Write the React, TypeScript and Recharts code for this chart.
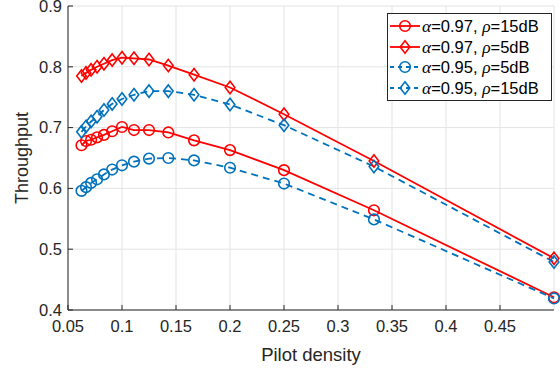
import React from "react";
import {
  LineChart,
  Line,
  XAxis,
  YAxis,
  CartesianGrid,
  Legend,
} from "recharts";

const DENSITY = [
  0.0625, 0.0667, 0.0714, 0.0769, 0.0833, 0.0909, 0.1, 0.1111, 0.125, 0.1429,
  0.1667, 0.2, 0.25, 0.3333, 0.5,
];

const A97_R15 = [
  0.671, 0.678, 0.68, 0.684, 0.688, 0.694, 0.701, 0.696, 0.696, 0.692, 0.679,
  0.663, 0.63, 0.564, 0.421,
];
const A97_R5 = [
  0.785, 0.79, 0.795, 0.8, 0.805, 0.811, 0.815, 0.814, 0.812, 0.802, 0.787,
  0.766, 0.722, 0.645, 0.485,
];
const A95_R5 = [
  0.596, 0.602, 0.609, 0.615, 0.623, 0.631, 0.638, 0.644, 0.649, 0.65, 0.646,
  0.634, 0.608, 0.549, 0.419,
];
const A95_R15 = [
  0.693, 0.702, 0.71, 0.718, 0.729, 0.739, 0.747, 0.754, 0.76, 0.76, 0.754,
  0.738, 0.704, 0.636, 0.479,
];

const X_TICKS = [0.05, 0.1, 0.15, 0.2, 0.25, 0.3, 0.35, 0.4, 0.45];
const Y_TICKS = [0.4, 0.5, 0.6, 0.7, 0.8, 0.9];

const RED = "#ff0000";
const BLUE = "#0072bd";
const AXIS = "#262626";
const FONT = "'Liberation Sans', Arial, sans-serif";

const SERIES = [
  { key: "s1", alpha: "0.97", rho: "15dB", color: RED, marker: "circle", dash: undefined },
  { key: "s2", alpha: "0.97", rho: "5dB", color: RED, marker: "diamond", dash: undefined },
  { key: "s3", alpha: "0.95", rho: "5dB", color: BLUE, marker: "circle", dash: "7 5" },
  { key: "s4", alpha: "0.95", rho: "15dB", color: BLUE, marker: "diamond", dash: "7 5" },
];

const data = DENSITY.map((x, i) => ({
  x,
  s1: A97_R15[i],
  s2: A97_R5[i],
  s3: A95_R5[i],
  s4: A95_R15[i],
}));

function Marker({ cx, cy, color, kind }: any) {
  if (cx == null || cy == null) return null;
  if (kind === "circle") {
    return <circle cx={cx} cy={cy} r={5.3} fill="none" stroke={color} strokeWidth={1.6} />;
  }
  const w = 4.8;
  const h = 6.2;
  return (
    <polygon
      points={`${cx},${cy - h} ${cx + w},${cy} ${cx},${cy + h} ${cx - w},${cy}`}
      fill="none"
      stroke={color}
      strokeWidth={1.6}
    />
  );
}

const greek = { fontFamily: "'Liberation Serif', serif", fontSize: 17.5 };

function renderLegend() {
  return (
    <div
      style={{
        border: `1px solid ${AXIS}`,
        background: "#fff",
        padding: "2px 0 2px 0",
        fontFamily: FONT,
        fontSize: 16.5,
        lineHeight: "18px",
        color: "#000",
        width: 165,
        boxSizing: "border-box",
      }}
    >
      {SERIES.map((s) => (
        <div key={s.key} style={{ display: "flex", alignItems: "center", height: 20.5 }}>
          <svg width={34} height={16} style={{ flex: "none" }}>
            <line
              x1={2}
              y1={8}
              x2={32}
              y2={8}
              stroke={s.color}
              strokeWidth={1.8}
              strokeDasharray={s.dash ? "4 4" : undefined}
            />
            <Marker cx={17} cy={8} color={s.color} kind={s.marker} />
          </svg>
          <span style={{ whiteSpace: "nowrap" }}>
            <i style={greek}>α</i>={s.alpha},{" "}
            <i style={greek}>ρ</i>={s.rho}
          </span>
        </div>
      ))}
    </div>
  );
}

export default function App() {
  return (
    <div style={{ position: "absolute", left: 0, top: 0, background: "#fff" }}>
      <LineChart
        width={560}
        height={368}
        data={data}
        margin={{ top: 6, right: 6, bottom: 0, left: 0 }}
      >
        <CartesianGrid stroke="#e3e3e3" strokeWidth={1} />
        <XAxis
          dataKey="x"
          type="number"
          domain={[0.05, 0.5]}
          ticks={X_TICKS}
          interval={0}
          height={58}
          stroke={AXIS}
          tickSize={-5}
          tickMargin={15}
          tick={{ fill: AXIS, fontSize: 16.5, fontFamily: FONT }}
          label={{
            value: "Pilot density",
            position: "insideBottom",
            offset: 7,
            fill: AXIS,
            fontSize: 18.5,
            fontFamily: FONT,
          }}
        />
        <XAxis
          xAxisId="top"
          orientation="top"
          type="number"
          domain={[0.05, 0.5]}
          ticks={X_TICKS}
          height={0}
          mirror
          stroke={AXIS}
          tickSize={5}
          tick={false}
        />
        <YAxis
          type="number"
          domain={[0.4, 0.9]}
          ticks={Y_TICKS}
          interval={0}
          width={68}
          stroke={AXIS}
          tickSize={-5}
          tickMargin={11}
          tickFormatter={(v: number) => v.toFixed(1)}
          tick={{ fill: AXIS, fontSize: 16.5, fontFamily: FONT }}
          label={{
            value: "Throughput",
            angle: -90,
            position: "center",
            dx: -12,
            fill: AXIS,
            fontSize: 18,
            fontFamily: FONT,
          }}
        />
        <YAxis
          yAxisId="right"
          orientation="right"
          type="number"
          domain={[0.4, 0.9]}
          ticks={Y_TICKS}
          width={0}
          mirror
          stroke={AXIS}
          tickSize={5}
          tick={false}
        />
        <Legend
          layout="vertical"
          align="center"
          verticalAlign="middle"
          content={renderLegend}
          wrapperStyle={{ top: 13, left: 387, width: 165 }}
        />
        {SERIES.map((s) => (
          <Line
            key={s.key}
            dataKey={s.key}
            stroke={s.color}
            strokeWidth={1.8}
            strokeDasharray={s.dash}
            type="linear"
            isAnimationActive={false}
            dot={(p: any) => (
              <Marker key={`${s.key}-${p.index}`} cx={p.cx} cy={p.cy} color={s.color} kind={s.marker} />
            )}
            activeDot={false}
          />
        ))}
      </LineChart>
    </div>
  );
}
